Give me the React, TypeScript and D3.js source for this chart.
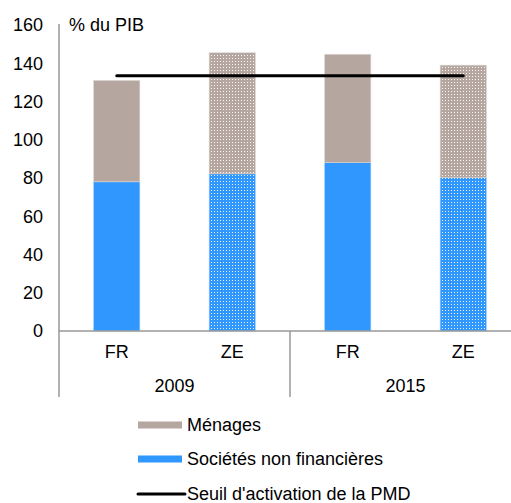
import React, { useRef, useEffect } from 'react';
import * as d3 from 'd3';

const years = ['2009', '2015'];
const zones = ['FR', 'ZE', 'FR', 'ZE'];
const snf = [78, 82.2, 88, 80.2];
const menages = [53, 63.3, 56.7, 58.8];
const seuil = 133.5;
const yTicks = [0, 20, 40, 60, 80, 100, 120, 140, 160];

const colMenages = '#b5a7a0';
const colSnf = '#2f97fd';
const FONT = '"Liberation Sans", Arial, sans-serif';
const FS = 18;

const App = () => {
  const svgRef = useRef<SVGSVGElement>(null);

  useEffect(() => {
    const width = 511;
    const height = 503;
    const marginLeft = 59;
    const plotRight = 521;
    const top = 25;
    const bottom = 331;

    const svg = d3.select(svgRef.current)
      .attr('width', width)
      .attr('height', height);
    svg.selectAll('*').remove();

    // dotted patterns for ZE bars
    const defs = svg.append('defs');
    [['patMen', colMenages], ['patSnf', colSnf]].forEach(([id, c]) => {
      const p = defs.append('pattern')
        .attr('id', id)
        .attr('patternUnits', 'userSpaceOnUse')
        .attr('width', 3)
        .attr('height', 3);
      p.append('rect').attr('width', 3).attr('height', 3).attr('fill', c);
      p.append('rect').attr('x', 1).attr('y', 1).attr('width', 1).attr('height', 1)
        .attr('fill', '#ffffff').attr('opacity', 0.9);
    });

    const idx = zones.map((_, i) => String(i));
    const x = d3.scaleBand().domain(idx).range([marginLeft, plotRight]).paddingInner(0.6).paddingOuter(0.3);
    const y = d3.scaleLinear().domain([0, 160]).range([bottom, top]);

    // y labels
    svg.append('g')
      .selectAll('text')
      .data(yTicks)
      .join('text')
      .attr('x', 43)
      .attr('y', d => y(d))
      .attr('dy', '0.35em')
      .attr('text-anchor', 'end')
      .attr('font-family', FONT)
      .attr('font-size', FS)
      .attr('fill', '#000')
      .text(d => d);

    svg.append('text')
      .attr('x', 69)
      .attr('y', 25)
      .attr('dy', '0.35em')
      .attr('font-family', FONT)
      .attr('font-size', FS)
      .text('% du PIB');

    // bars
    const g = svg.append('g');
    zones.forEach((z, i) => {
      const xi = x(String(i))!;
      const bw = x.bandwidth();
      const total = snf[i] + menages[i];
      const dotted = z === 'ZE';
      g.append('rect')
        .attr('x', xi).attr('width', bw)
        .attr('y', y(snf[i])).attr('height', y(0) - y(snf[i]))
        .attr('fill', dotted ? 'url(#patSnf)' : colSnf)
        .attr('stroke', '#9fcfff').attr('stroke-width', 0.6);
      g.append('rect')
        .attr('x', xi).attr('width', bw)
        .attr('y', y(total)).attr('height', y(snf[i]) - y(total))
        .attr('fill', dotted ? 'url(#patMen)' : colMenages)
        .attr('stroke', '#ddd6d2').attr('stroke-width', 0.6);
    });

    // axes
    const axisCol = '#999';
    svg.append('line')
      .attr('x1', marginLeft).attr('x2', marginLeft)
      .attr('y1', top - 1).attr('y2', 397)
      .attr('stroke', axisCol).attr('stroke-width', 1.5);
    svg.append('line')
      .attr('x1', marginLeft).attr('x2', plotRight)
      .attr('y1', y(0)).attr('y2', y(0))
      .attr('stroke', axisCol).attr('stroke-width', 1.5);
    const groupW = (plotRight - marginLeft) / years.length;
    years.forEach((yr, k) => {
      const gx = marginLeft + groupW * (k + 1);
      svg.append('line')
        .attr('x1', gx).attr('x2', gx)
        .attr('y1', y(0)).attr('y2', 397)
        .attr('stroke', axisCol).attr('stroke-width', 1.5);
      svg.append('text')
        .attr('x', marginLeft + groupW * k + groupW / 2)
        .attr('y', 386)
        .attr('dy', '0.35em')
        .attr('text-anchor', 'middle')
        .attr('font-family', FONT)
        .attr('font-size', FS)
        .text(yr);
    });
    zones.forEach((z, i) => {
      svg.append('text')
        .attr('x', x(String(i))! + x.bandwidth() / 2)
        .attr('y', 352)
        .attr('dy', '0.35em')
        .attr('text-anchor', 'middle')
        .attr('font-family', FONT)
        .attr('font-size', FS)
        .text(z);
    });

    // threshold line
    const cx0 = marginLeft + (plotRight - marginLeft) / 8;
    const cx1 = plotRight - (plotRight - marginLeft) / 8;
    svg.append('line')
      .attr('x1', cx0).attr('x2', cx1)
      .attr('y1', y(seuil)).attr('y2', y(seuil))
      .attr('stroke', '#000').attr('stroke-width', 3)
      .attr('stroke-linecap', 'round');

    // legend
    const leg = svg.append('g').attr('font-family', FONT).attr('font-size', FS);
    const legItems = [
      { label: 'Ménages', type: 'rect', color: colMenages, yy: 425 },
      { label: 'Sociétés non financières', type: 'rect', color: colSnf, yy: 459 },
      { label: "Seuil d'activation de la PMD", type: 'line', color: '#000', yy: 494 },
    ];
    legItems.forEach(it => {
      if (it.type === 'rect') {
        leg.append('rect')
          .attr('x', 138).attr('y', it.yy - 3.5)
          .attr('width', 44).attr('height', 7)
          .attr('fill', it.color);
      } else {
        leg.append('line')
          .attr('x1', 138).attr('x2', 185)
          .attr('y1', it.yy).attr('y2', it.yy)
          .attr('stroke', it.color).attr('stroke-width', 3)
          .attr('stroke-linecap', 'round');
      }
      leg.append('text')
        .attr('x', 187)
        .attr('y', it.yy)
        .attr('dy', '0.35em')
        .text(it.label);
    });
  }, []);

  return (
    <svg ref={svgRef} style={{ position: 'absolute', left: 0, top: 0, display: 'block' }}></svg>
  );
};

export default App;
